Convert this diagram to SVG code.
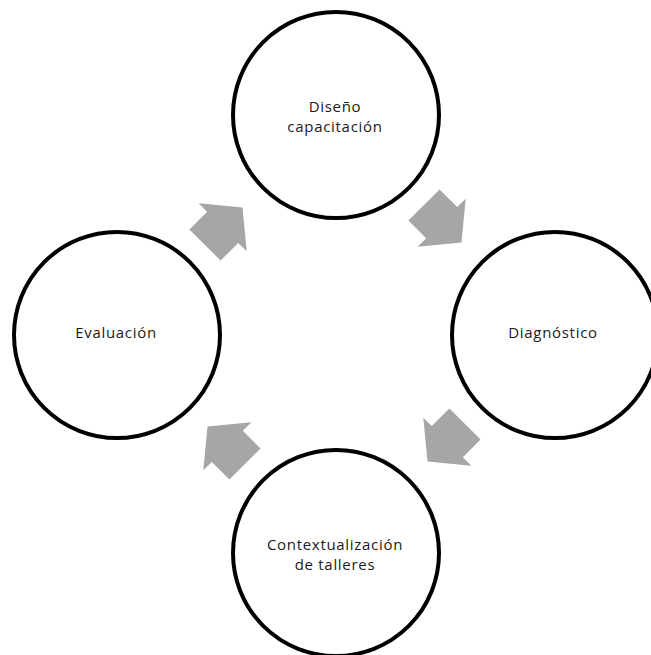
<svg xmlns="http://www.w3.org/2000/svg" width="651" height="655" viewBox="0 0 651 655">
<style>
.node circle{fill:#fff;stroke:#000;stroke-width:4}
.node text{font-family:"Open Sans","DejaVu Sans",sans-serif;font-size:15px;letter-spacing:0.7px;fill:#1a1a1a;text-anchor:middle}
.arr{fill:#A6A6A6}
</style>
<defs>
<path id="blk" d="M0,-22 L25,-22 L25,-34 L53,0 L25,34 L25,22 L0,22 Z"/>
</defs>
<rect width="651" height="655" fill="#fff"/>
<g id="connectors">
<use href="#blk" class="arr" transform="translate(205,245) rotate(-45)"/>
<use href="#blk" class="arr" transform="translate(424,205) rotate(45)"/>
<use href="#blk" class="arr" transform="translate(465,424) rotate(135)"/>
<use href="#blk" class="arr" transform="translate(245,464) rotate(-135)"/>
</g>
<g id="node-diseno" class="node">
<circle cx="336" cy="115" r="103"/>
<text x="335" y="112">Diseño</text>
<text x="335" y="132">capacitación</text>
</g>
<g id="node-diagnostico" class="node">
<circle cx="555" cy="335" r="103"/>
<text x="553" y="338">Diagnóstico</text>
</g>
<g id="node-contextualizacion" class="node">
<circle cx="336" cy="553" r="103"/>
<text x="335" y="550">Contextualización</text>
<text x="335" y="570">de talleres</text>
</g>
<g id="node-evaluacion" class="node">
<circle cx="117" cy="335" r="103"/>
<text x="116" y="338">Evaluación</text>
</g>
</svg>
